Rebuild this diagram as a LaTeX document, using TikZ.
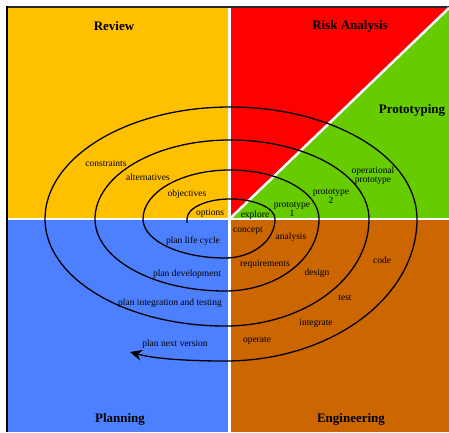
\documentclass[tikz,border=0pt]{standalone}
\usepackage{fontspec}
\setmainfont{Liberation Serif}
\usetikzlibrary{arrows.meta}
\definecolor{reviewcol}{RGB}{255,192,0}
\definecolor{riskcol}{RGB}{255,0,0}
\definecolor{protocol}{RGB}{102,204,0}
\definecolor{plancol}{RGB}{77,128,255}
\definecolor{engcol}{RGB}{204,102,0}
\definecolor{framecol}{RGB}{40,40,40}
\begin{document}
\begin{tikzpicture}[x=1pt,y=1pt,
  title/.style={font=\fontsize{13}{15}\selectfont\bfseries, inner sep=0pt},
  lbl/.style={font=\fontsize{9.5}{9}\selectfont, inner sep=0pt, align=center},
  divider/.style={white, line width=2.5pt},
  spiral/.style={black, line width=1.3pt}]
\useasboundingbox (0,0) rectangle (449,-432);
\fill[white] (0,0) rectangle (449,-432);
% the four quadrants, with the upper right one split in two
\fill[reviewcol] (8,-8) rectangle (229.5,-219);
\fill[riskcol] (229.5,-8) rectangle (449,-219);
\fill[protocol] (229.5,-219) -- (449,-8) -- (449,-219) -- cycle;
\fill[plancol] (8,-219) rectangle (229.5,-432);
\fill[engcol] (229.5,-219) rectangle (449,-432);
% frame edges
\draw[framecol, line width=2pt] (6,-7) -- (449,-7);
\draw[black, line width=2pt] (7,-6) -- (7,-432);
% white dividers
\coordinate (o) at (229.5,-219);
\coordinate (top) at (229.5,-8);
\coordinate (bot) at (229.5,-432);
\coordinate (lft) at (8,-219);
\coordinate (rgt) at (449,-219);
\coordinate (corner) at (449,-8);
\draw[divider] (top) -- (bot);
\draw[divider] (lft) -- (rgt);
\draw[divider] (o) -- (corner);
% the spiral, built from quarter ellipses
\coordinate (s) at (187,-223);
\coordinate (e) at (130,-352);
\draw[spiral, -{Stealth[length=12pt,width=11pt,inset=4pt]}] (s) -- (187,-219)
  arc[start angle=180,end angle=90,x radius=43pt,y radius=20pt]
  arc[start angle=90,end angle=0,x radius=45pt,y radius=20pt]
  arc[start angle=0,end angle=-90,x radius=50pt,y radius=39pt]
  arc[start angle=270,end angle=180,x radius=82pt,y radius=39pt]
  arc[start angle=180,end angle=90,x radius=87pt,y radius=49pt]
  arc[start angle=90,end angle=0,x radius=89pt,y radius=49pt]
  arc[start angle=0,end angle=-90,x radius=94pt,y radius=72pt]
  arc[start angle=270,end angle=180,x radius=130pt,y radius=72pt]
  arc[start angle=180,end angle=90,x radius=135pt,y radius=79pt]
  arc[start angle=90,end angle=0,x radius=139pt,y radius=79pt]
  arc[start angle=0,end angle=-90,x radius=144pt,y radius=107pt]
  arc[start angle=270,end angle=180,x radius=180pt,y radius=107pt]
  arc[start angle=180,end angle=90,x radius=185pt,y radius=112pt]
  arc[start angle=90,end angle=0,x radius=187pt,y radius=112pt]
  arc[start angle=0,end angle=-90,x radius=192pt,y radius=142pt]
  .. controls (190,-361) and (155,-359) .. (e);
% quadrant titles
\node[title] (review) at (114,-26) {Review};
\node[title] (risk) at (350,-26) {Risk Analysis};
\node[title] (proto) at (412,-110) {Prototyping};
\node[title] (planning) at (120,-419) {Planning};
\node[title] (eng) at (351,-419) {Engineering};
% labels along the spiral
\node[lbl] (constraints) at (106,-163) {constraints};
\node[lbl] (alternatives) at (148,-177) {alternatives};
\node[lbl] (objectives) at (187,-194) {objectives};
\node[lbl] (options) at (210,-213) {options};
\node[lbl] (explore) at (255,-215) {explore};
\node[lbl] (proto1) at (292,-209) {prototype\\1};
\node[lbl] (proto2) at (331,-196.5) {prototype\\2};
\node[lbl] (opproto) at (373,-176) {operational\\prototype};
\node[lbl] (lifecycle) at (193,-241) {plan life cycle};
\node[lbl] (development) at (187,-274) {plan development};
\node[lbl] (integtest) at (170,-303) {plan integration and testing};
\node[lbl] (nextver) at (175,-344) {plan next version};
\node[lbl] (concept) at (248,-231) {concept};
\node[lbl] (analysis) at (291,-237) {analysis};
\node[lbl] (requirements) at (265,-264) {requirements};
\node[lbl] (design) at (317,-273) {design};
\node[lbl] (code) at (382,-260) {code};
\node[lbl] (test) at (345,-298) {test};
\node[lbl] (integrate) at (316,-323) {integrate};
\node[lbl] (operate) at (257,-341) {operate};
\end{tikzpicture}
\end{document}
